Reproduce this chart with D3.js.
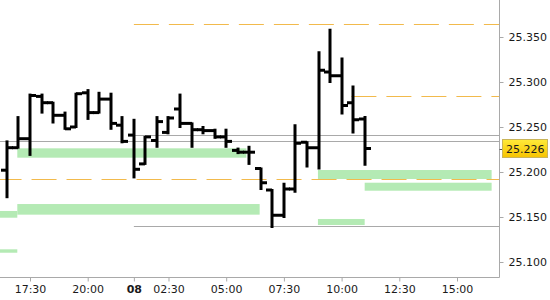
<!DOCTYPE html>
<html>
<head>
<meta charset="utf-8">
<script src="https://cdn.jsdelivr.net/npm/d3@7"></script>
<style>
  body { margin: 0; background: #fff; }
  text { font-family: "DejaVu Sans", sans-serif; }
</style>
</head>
<body>
<div id="chart"></div>
<script>
//////////////////////////////////////////////////////////////////////
////////////////////// Price bars (30 min) ////////////////////////////
//////////////////////////////////////////////////////////////////////

// bar slot index (one slot = 30 minutes, session break removed)
const slots = d3.range(-2, 30);
const open  = [25.202, 25.227, 25.237, 25.284, 25.277, 25.263, 25.250, 25.288, 25.266, 25.281, 25.252, 25.241, 25.209, 25.235, 25.244, 25.270,
               25.254, 25.247, 25.246, 25.239, 25.224, 25.222, 25.204, 25.180, 25.152, 25.181, 25.233, 25.227, 25.311, 25.307, 25.277, 25.259];
const high  = [25.234, 25.261, 25.286, 25.286, 25.277, 25.266, 25.287, 25.291, 25.288, 25.287, 25.261, 25.258, 25.239, 25.261, 25.261, 25.286,
               25.254, 25.250, 25.247, 25.247, 25.226, 25.228, 25.204, 25.180, 25.187, 25.252, 25.233, 25.333, 25.358, 25.326, 25.295, 25.261];
const low   = [25.172, 25.227, 25.219, 25.266, 25.255, 25.248, 25.250, 25.259, 25.266, 25.248, 25.233, 25.194, 25.209, 25.228, 25.243, 25.250,
               25.228, 25.243, 25.238, 25.228, 25.221, 25.209, 25.181, 25.139, 25.150, 25.178, 25.206, 25.204, 25.300, 25.265, 25.244, 25.208];
const close = [25.227, 25.237, 25.285, 25.277, 25.263, 25.248, 25.287, 25.266, 25.281, 25.254, 25.234, 25.203, 25.239, 25.256, 25.260, 25.254,
               25.247, 25.246, 25.239, 25.234, 25.222, 25.222, 25.188, 25.152, 25.181, 25.232, 25.227, 25.313, 25.307, 25.274, 25.258, 25.226];

const lastPrice = 25.226;

// axis ticks
const xTickSlots  = [0, 5, 9, 12, 17, 22, 27, 32, 37];
const xTickLabels = ["17:30", "20:00", "08", "02:30", "05:00", "07:30", "10:00", "12:30", "15:00"];
const yTicks = [25.100, 25.150, 25.200, 25.250, 25.300, 25.350];

// gray price levels
const grayLevels = [25.235, 25.241, 25.140];
const grayFrom   = [-2.7, 9, 9];

// orange dashed levels
const dashLevels = [25.365, 25.285, 25.192];
const dashFrom   = [9, 27.85, -2.9];

// green zones
const zoneLow  = [25.2159, 25.1526, 25.1492, 25.1103, 25.1922, 25.1792, 25.1411];
const zoneHigh = [25.2263, 25.1644, 25.1567, 25.1141, 25.2022, 25.1881, 25.1478];
const zoneFrom = [-1.1, -1.1, -2.7, -2.7, 24.95, 29.0, 24.95];
const zoneTo   = [18.75, 19.9, -1.1, -1.1, 40, 40, 29.0];

const width = 550, height = 300;
const plotRight = 499.5, plotBottom = 277.5;

const x = d3.scaleLinear().domain([0, 37]).range([30, 457]);
const y = d3.scaleLinear().domain([25.1, 25.35]).range([262, 37]);

const svg = d3.select("#chart")
  .append("svg")
  .attr("width", width)
  .attr("height", height)

svg.append("clipPath").attr("id", "plot-clip")
  .append("rect").attr("x", 0).attr("y", 0).attr("width", plotRight).attr("height", plotBottom)

const plot = svg.append("g").attr("clip-path", "url(#plot-clip)")

// zones
plot.selectAll(".zone")
  .data(zoneLow.map((d, i) => i))
  .join("rect")
  .classed("zone", true)
    .attr("x", i => x(zoneFrom[i]))
    .attr("width", i => x(zoneTo[i]) - x(zoneFrom[i]))
    .attr("y", i => y(zoneHigh[i]))
    .attr("height", i => y(zoneLow[i]) - y(zoneHigh[i]))
    .attr("fill", "#b4eab4")

// gray levels
plot.selectAll(".gray-level")
  .data(grayLevels.map((d, i) => i))
  .join("line")
  .classed("gray-level", true)
    .attr("x1", i => x(grayFrom[i]))
    .attr("x2", plotRight)
    .attr("y1", i => Math.round(y(grayLevels[i])) + 0.5)
    .attr("y2", i => Math.round(y(grayLevels[i])) + 0.5)
    .attr("stroke", "#a9a9a9")
    .attr("stroke-width", 1)

// dashed levels
plot.selectAll(".dash-level")
  .data(dashLevels.map((d, i) => i))
  .join("line")
  .classed("dash-level", true)
    .attr("x1", i => x(dashFrom[i]))
    .attr("x2", plotRight)
    .attr("y1", i => Math.round(y(dashLevels[i])) + 0.5)
    .attr("y2", i => Math.round(y(dashLevels[i])) + 0.5)
    .attr("stroke", "#f2ba4c")
    .attr("stroke-width", 1)
    .attr("stroke-dasharray", "25,10")

// OHLC bars
const bars = plot.selectAll(".bar")
  .data(slots.map((s, i) => i))
  .join("g")
  .classed("bar", true)
    .attr("transform", i => `translate(${Math.round(x(slots[i]))},0)`)

bars.append("line")
    .attr("x1", 0).attr("x2", 0)
    .attr("y1", i => y(high[i]) - 1)
    .attr("y2", i => y(low[i]) + 1)
    .attr("stroke", "black").attr("stroke-width", 3)
bars.append("line")
    .attr("x1", -6).attr("x2", 0)
    .attr("y1", i => y(open[i])).attr("y2", i => y(open[i]))
    .attr("stroke", "black").attr("stroke-width", 3)
bars.append("line")
    .attr("x1", 0).attr("x2", 6)
    .attr("y1", i => y(close[i])).attr("y2", i => y(close[i]))
    .attr("stroke", "black").attr("stroke-width", 3)

// axes
svg.append("line")
  .attr("x1", 0).attr("x2", plotRight).attr("y1", plotBottom).attr("y2", plotBottom)
  .attr("stroke", "#a9a9a9")
svg.append("line")
  .attr("x1", plotRight).attr("x2", plotRight).attr("y1", 0).attr("y2", plotBottom)
  .attr("stroke", "#a9a9a9")

const xAxis = svg.append("g")
  .attr("transform", `translate(0,${plotBottom})`)
  .call(d3.axisBottom(x).tickValues(xTickSlots).tickFormat((d, i) => xTickLabels[i]).tickSize(4).tickPadding(4))
xAxis.select(".domain").remove()
xAxis.selectAll("line").attr("stroke", "#a9a9a9")
xAxis.selectAll("text")
  .attr("font-size", 11).attr("font-family", "DejaVu Sans").attr("fill", "#1a1a1a")
  .attr("font-weight", (d, i) => xTickLabels[i] === "08" ? "bold" : "normal")

const yAxis = svg.append("g")
  .attr("transform", `translate(${plotRight},0)`)
  .call(d3.axisRight(y).tickValues(yTicks).tickFormat(d3.format(".3f")).tickSize(4).tickPadding(5))
yAxis.select(".domain").remove()
yAxis.selectAll("line").attr("stroke", "#a9a9a9")
yAxis.selectAll("text")
  .attr("font-size", 11).attr("font-family", "DejaVu Sans").attr("fill", "#1a1a1a")

// last price marker
const grad = svg.append("defs").append("linearGradient")
  .attr("id", "last-grad").attr("x1", 0).attr("x2", 0).attr("y1", 0).attr("y2", 1)
grad.append("stop").attr("offset", "0%").attr("stop-color", "#ffea3a")
grad.append("stop").attr("offset", "100%").attr("stop-color", "#f7c300")

const lastY = y(lastPrice)
svg.append("line")
  .attr("x1", plotRight).attr("x2", plotRight + 4)
  .attr("y1", Math.round(lastY) + 0.5).attr("y2", Math.round(lastY) + 0.5)
  .attr("stroke", "#555")
svg.append("rect")
  .attr("x", 502.5).attr("y", Math.round(lastY) - 9.5)
  .attr("width", 45).attr("height", 18)
  .attr("fill", "url(#last-grad)")
  .attr("stroke", "#c9b45a")
svg.append("text")
  .attr("x", 506).attr("y", lastY)
  .attr("dy", "0.36em")
  .attr("font-size", 11)
  .attr("fill", "#1a1a1a")
  .text(d3.format(".3f")(lastPrice))
</script>
</body>
</html>
